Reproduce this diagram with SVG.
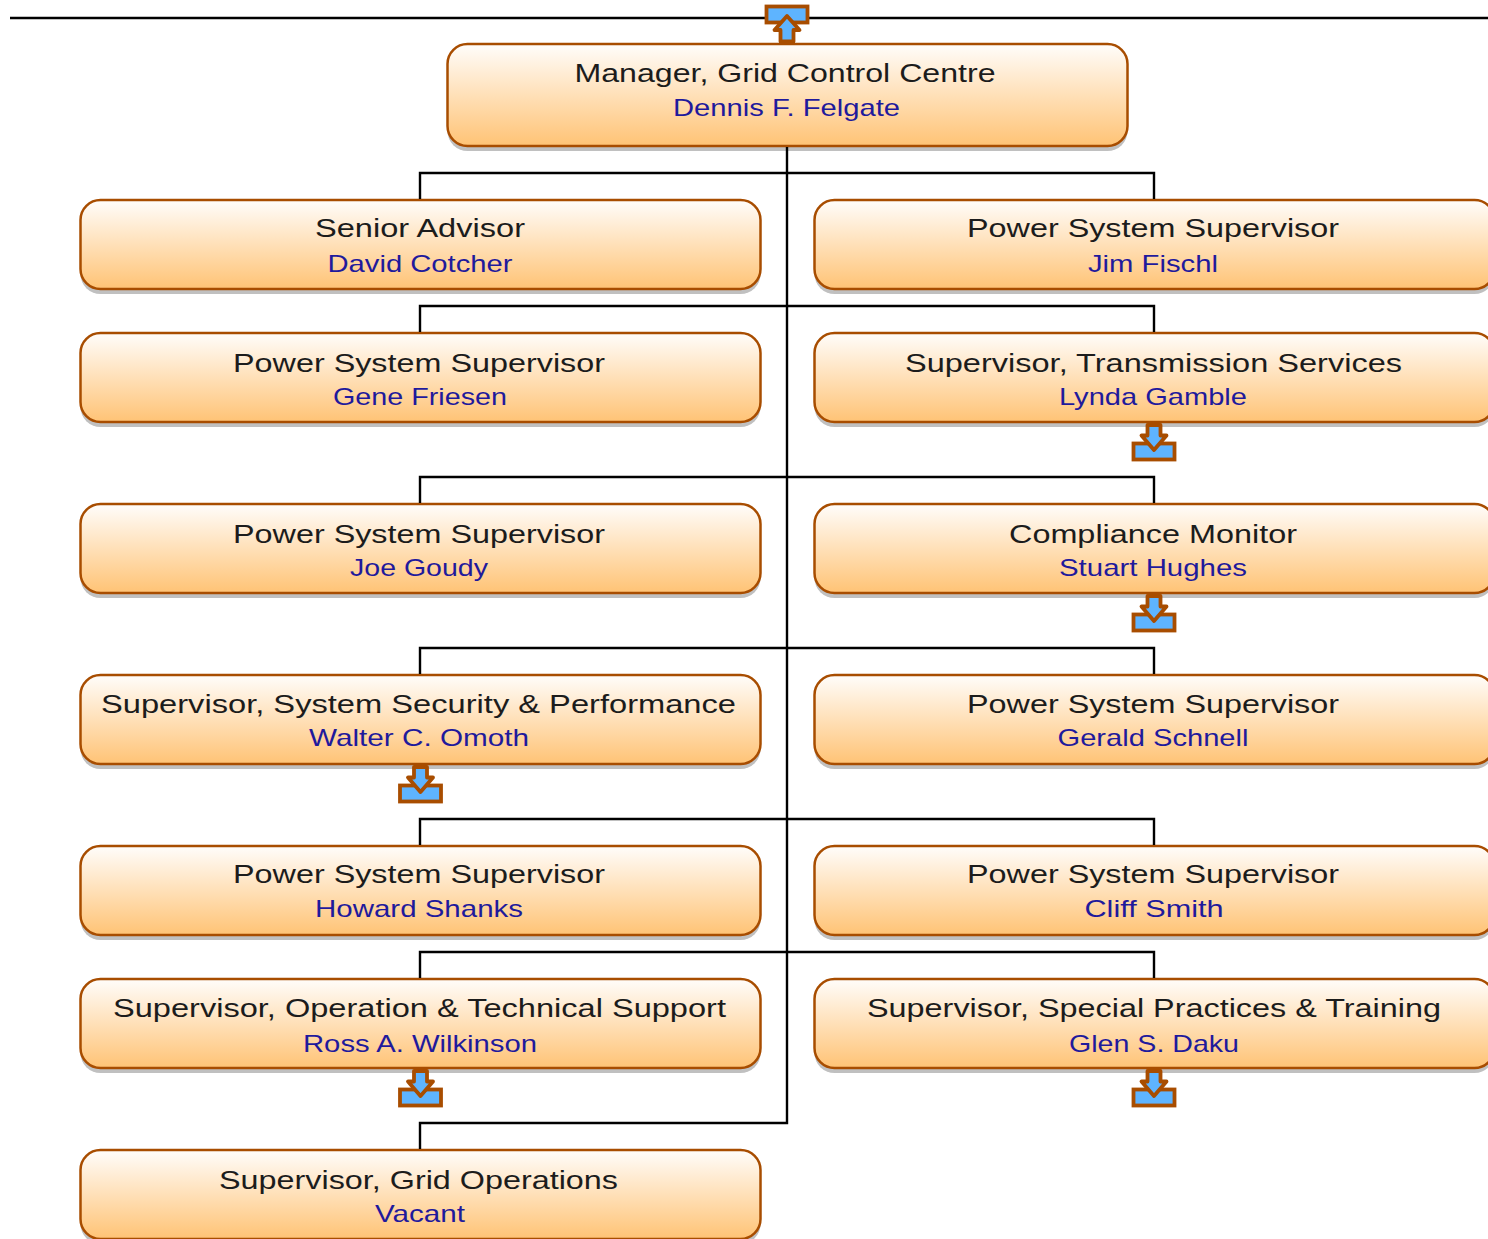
<svg xmlns="http://www.w3.org/2000/svg" width="1488" height="1239" viewBox="0 0 1488 1239">
<defs>
<linearGradient id="g" x1="0" y1="0" x2="0" y2="1"><stop offset="0" stop-color="#fffdfb"/><stop offset="1" stop-color="#ffc375"/></linearGradient>
<g id="down"><rect class="ic" x="-20.500" y="18.500" width="41" height="16"/><path class="ic ar" d="M-6.500 0H6.500V10.500H12.500L0 25L-12.500 10.500H-6.500Z"/></g>
</defs>
<style>
.b{fill:url(#g);stroke:#a84d00;stroke-width:2.5}
.s{fill:#c0c0c0}
.ic{fill:#5eb4ff;stroke:#a84d00;stroke-width:3.8}
.ar{stroke-linejoin:round}
.c{fill:none;stroke:#000;stroke-width:2.4}
text{font-family:"Liberation Sans",Arial,sans-serif;text-anchor:middle}
.t{font-size:25px;fill:#1c1c1c}
.n{font-size:24px;fill:#1f1a9c}
</style>
<g id="n0"><rect class="s" x="447.500" y="49" width="680" height="102" rx="20"/><rect class="b" x="447.500" y="44" width="680" height="102" rx="20"/><text class="t" x="785" y="82" textLength="421" lengthAdjust="spacingAndGlyphs">Manager, Grid Control Centre</text><text class="n" x="786.500" y="116" textLength="227" lengthAdjust="spacingAndGlyphs">Dennis F. Felgate</text></g>
<g id="n1"><rect class="s" x="80.500" y="205" width="680" height="89" rx="20"/><rect class="b" x="80.500" y="200" width="680" height="89" rx="20"/><text class="t" x="420" y="237" textLength="210" lengthAdjust="spacingAndGlyphs">Senior Advisor</text><text class="n" x="420" y="272" textLength="185" lengthAdjust="spacingAndGlyphs">David Cotcher</text></g>
<g id="n2"><rect class="s" x="814.500" y="205" width="680" height="89" rx="20"/><rect class="b" x="814.500" y="200" width="680" height="89" rx="20"/><text class="t" x="1153" y="237" textLength="372" lengthAdjust="spacingAndGlyphs">Power System Supervisor</text><text class="n" x="1153" y="272" textLength="130" lengthAdjust="spacingAndGlyphs">Jim Fischl</text></g>
<g id="n3"><rect class="s" x="80.500" y="338" width="680" height="89" rx="20"/><rect class="b" x="80.500" y="333" width="680" height="89" rx="20"/><text class="t" x="419" y="372" textLength="372" lengthAdjust="spacingAndGlyphs">Power System Supervisor</text><text class="n" x="420" y="405" textLength="174" lengthAdjust="spacingAndGlyphs">Gene Friesen</text></g>
<g id="n4"><rect class="s" x="814.500" y="338" width="680" height="89" rx="20"/><rect class="b" x="814.500" y="333" width="680" height="89" rx="20"/><text class="t" x="1153.500" y="372" textLength="497" lengthAdjust="spacingAndGlyphs">Supervisor, Transmission Services</text><text class="n" x="1153" y="405" textLength="188" lengthAdjust="spacingAndGlyphs">Lynda Gamble</text></g>
<g id="n5"><rect class="s" x="80.500" y="509" width="680" height="89" rx="20"/><rect class="b" x="80.500" y="504" width="680" height="89" rx="20"/><text class="t" x="419" y="543" textLength="372" lengthAdjust="spacingAndGlyphs">Power System Supervisor</text><text class="n" x="419" y="576" textLength="138" lengthAdjust="spacingAndGlyphs">Joe Goudy</text></g>
<g id="n6"><rect class="s" x="814.500" y="509" width="680" height="89" rx="20"/><rect class="b" x="814.500" y="504" width="680" height="89" rx="20"/><text class="t" x="1153" y="543" textLength="288" lengthAdjust="spacingAndGlyphs">Compliance Monitor</text><text class="n" x="1153" y="576" textLength="188" lengthAdjust="spacingAndGlyphs">Stuart Hughes</text></g>
<g id="n7"><rect class="s" x="80.500" y="680" width="680" height="89" rx="20"/><rect class="b" x="80.500" y="675" width="680" height="89" rx="20"/><text class="t" x="418.500" y="713" textLength="635" lengthAdjust="spacingAndGlyphs">Supervisor, System Security &amp; Performance</text><text class="n" x="419" y="746" textLength="220" lengthAdjust="spacingAndGlyphs">Walter C. Omoth</text></g>
<g id="n8"><rect class="s" x="814.500" y="680" width="680" height="89" rx="20"/><rect class="b" x="814.500" y="675" width="680" height="89" rx="20"/><text class="t" x="1153" y="713" textLength="372" lengthAdjust="spacingAndGlyphs">Power System Supervisor</text><text class="n" x="1153" y="746" textLength="191" lengthAdjust="spacingAndGlyphs">Gerald Schnell</text></g>
<g id="n9"><rect class="s" x="80.500" y="851" width="680" height="89" rx="20"/><rect class="b" x="80.500" y="846" width="680" height="89" rx="20"/><text class="t" x="419" y="883" textLength="372" lengthAdjust="spacingAndGlyphs">Power System Supervisor</text><text class="n" x="419" y="917" textLength="208" lengthAdjust="spacingAndGlyphs">Howard Shanks</text></g>
<g id="n10"><rect class="s" x="814.500" y="851" width="680" height="89" rx="20"/><rect class="b" x="814.500" y="846" width="680" height="89" rx="20"/><text class="t" x="1153" y="883" textLength="372" lengthAdjust="spacingAndGlyphs">Power System Supervisor</text><text class="n" x="1154" y="917" textLength="139" lengthAdjust="spacingAndGlyphs">Cliff Smith</text></g>
<g id="n11"><rect class="s" x="80.500" y="984" width="680" height="89" rx="20"/><rect class="b" x="80.500" y="979" width="680" height="89" rx="20"/><text class="t" x="419.500" y="1017" textLength="613" lengthAdjust="spacingAndGlyphs">Supervisor, Operation &amp; Technical Support</text><text class="n" x="420" y="1052" textLength="234" lengthAdjust="spacingAndGlyphs">Ross A. Wilkinson</text></g>
<g id="n12"><rect class="s" x="814.500" y="984" width="680" height="89" rx="20"/><rect class="b" x="814.500" y="979" width="680" height="89" rx="20"/><text class="t" x="1154" y="1017" textLength="574" lengthAdjust="spacingAndGlyphs">Supervisor, Special Practices &amp; Training</text><text class="n" x="1154" y="1052" textLength="170" lengthAdjust="spacingAndGlyphs">Glen S. Daku</text></g>
<g id="n13"><rect class="s" x="80.500" y="1155" width="680" height="89" rx="20"/><rect class="b" x="80.500" y="1150" width="680" height="89" rx="20"/><text class="t" x="418.500" y="1189" textLength="399" lengthAdjust="spacingAndGlyphs">Supervisor, Grid Operations</text><text class="n" x="420" y="1222" textLength="90" lengthAdjust="spacingAndGlyphs">Vacant</text></g>
<g id="connectors">
<path class="c" d="M10 18H1488"/>
<path class="c" d="M787 147V1123H420V1149"/>
<path class="c" d="M420 199V173H1154V199M420 332V306H1154V332M420 503V477H1154V503M420 674V648H1154V674M420 845V819H1154V845M420 978V952H1154V978"/>
</g>
<g id="up-top"><rect class="ic" x="766.500" y="6.500" width="41" height="16"/><path class="ic ar" d="M780.500 41.500V30H774.500L787 16L799.500 30H793.500V41.500Z"/></g>
<use id="d1" href="#down" x="1154" y="425"/>
<use id="d2" href="#down" x="1154" y="596"/>
<use id="d3" href="#down" x="420.500" y="767"/>
<use id="d4" href="#down" x="420.500" y="1071"/>
<use id="d5" href="#down" x="1154" y="1071"/>
</svg>
